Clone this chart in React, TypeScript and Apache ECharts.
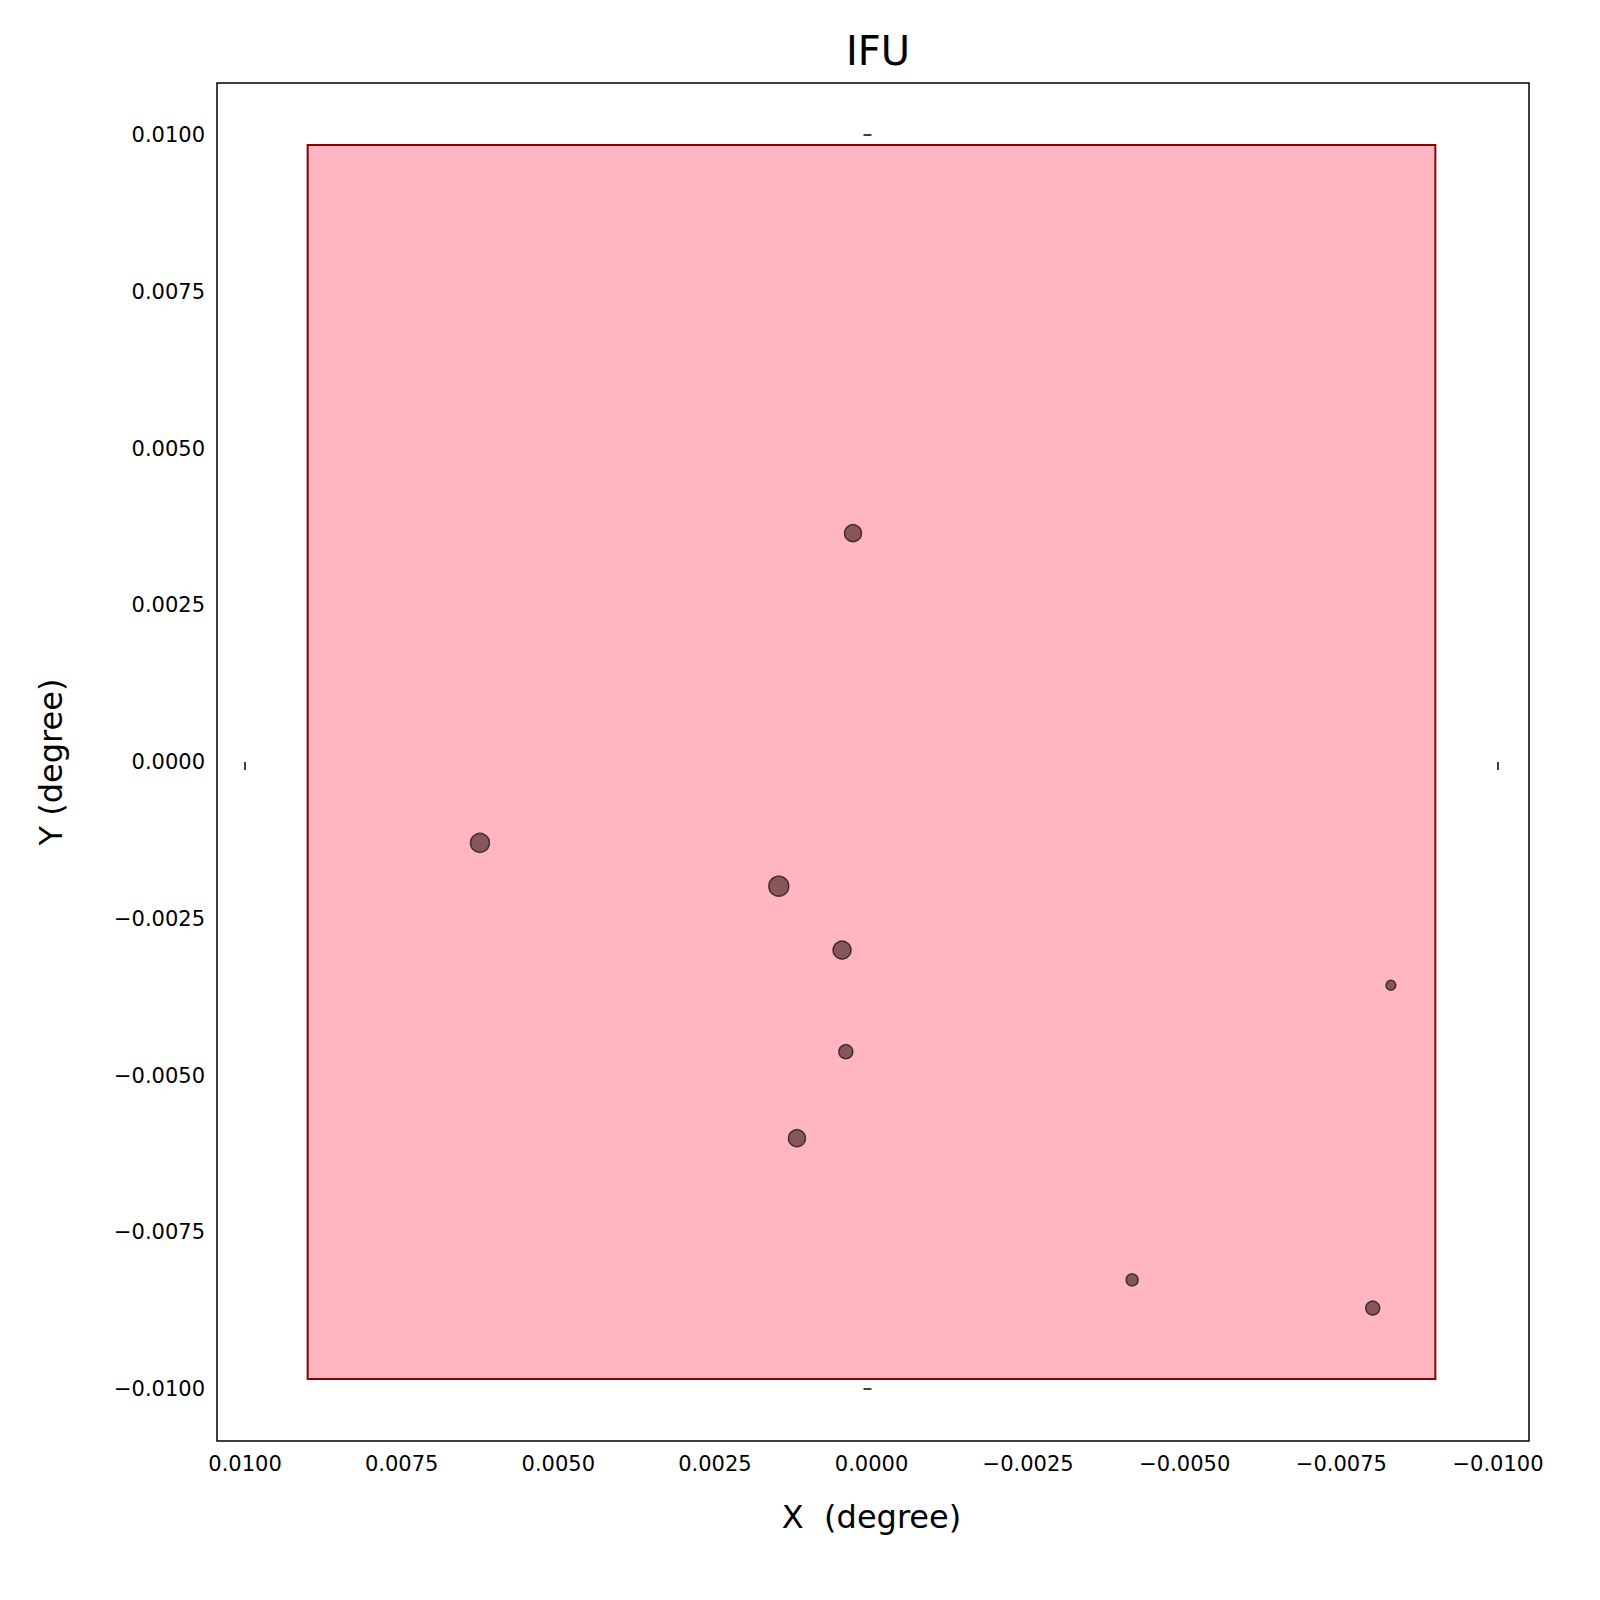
import { useEffect, useRef } from 'react';
import * as echarts from 'echarts';

// Point positions (degree) and marker diameters
const pointX = [0.000295, 0.00625, 0.00148, 0.00047, -0.00829, 0.00041, 0.00119, -0.00416, -0.008];
const pointY = [0.00365, -0.00129, -0.00198, -0.003, -0.00356, -0.00462, -0.006, -0.00826, -0.00871];
const pointSize = [17, 19, 20, 18, 10, 14, 17, 12, 14];

// IFU rectangle corners
const rectX = [0.009, -0.009];
const rectY = [0.00984, -0.00984];

const fmt = (v: number) => {
  const s = (Math.abs(v) < 1e-12 ? 0 : v).toFixed(4);
  return s.replace('-', '\u2212');
};

const axisBase = {
  type: 'value' as const,
  min: -0.01,
  max: 0.01,
  interval: 0.0025,
  splitLine: { show: false },
  axisLine: { show: false },
  axisTick: { show: true, inside: false, length: 8, lineStyle: { color: '#000', width: 1.5 } },
  axisLabel: { color: '#000', fontSize: 21, margin: 12, formatter: fmt },
  nameTextStyle: { color: '#000', fontSize: 32 },
  nameLocation: 'middle' as const,
};

export default function App() {
  const ref = useRef<HTMLDivElement>(null);

  useEffect(() => {
    document.body.style.margin = '0';
    document.documentElement.style.overflow = 'hidden';
    if (!ref.current) return;
    const chart = echarts.init(ref.current, null, { renderer: 'svg' });
    chart.setOption({
      animation: false,
      textStyle: { fontFamily: 'DejaVu Sans' },
      title: {
        text: 'IFU',
        left: 873,
        textAlign: 'center',
        top: 26,
        textStyle: { fontSize: 40, fontWeight: 'normal', color: '#000' },
      },
      // grid spans the tick range; the frame is drawn larger around it
      grid: { left: 245, right: 102, top: 135, bottom: 211 },
      graphic: [
        {
          type: 'rect',
          shape: { x: 217, y: 83, width: 1312, height: 1358 },
          style: { fill: 'none', stroke: '#000', lineWidth: 1.5 },
          z: 10,
        },
      ],
      xAxis: { ...axisBase, inverse: true, offset: 52, name: 'X  (degree)', nameGap: 60 },
      yAxis: { ...axisBase, offset: 28, name: 'Y (degree)', nameGap: 150 },
      series: [
        {
          type: 'scatter',
          clip: false,
          data: pointX.map((x, i) => [x, pointY[i], pointSize[i]]),
          symbolSize: (d: number[]) => d[2],
          itemStyle: { color: 'rgba(40,10,10,0.7)', borderColor: 'rgba(0,0,0,0.8)', borderWidth: 1.5 },
          z: 5,
          markArea: {
            silent: true,
            itemStyle: { color: '#ffb6c1', borderColor: '#8b0000', borderWidth: 2 },
            data: [[{ coord: [rectX[0], rectY[0]] }, { coord: [rectX[1], rectY[1]] }]],
          },
        },
      ],
    });
    return () => chart.dispose();
  }, []);

  return <div ref={ref} style={{ width: 1600, height: 1600 }} />;
}
